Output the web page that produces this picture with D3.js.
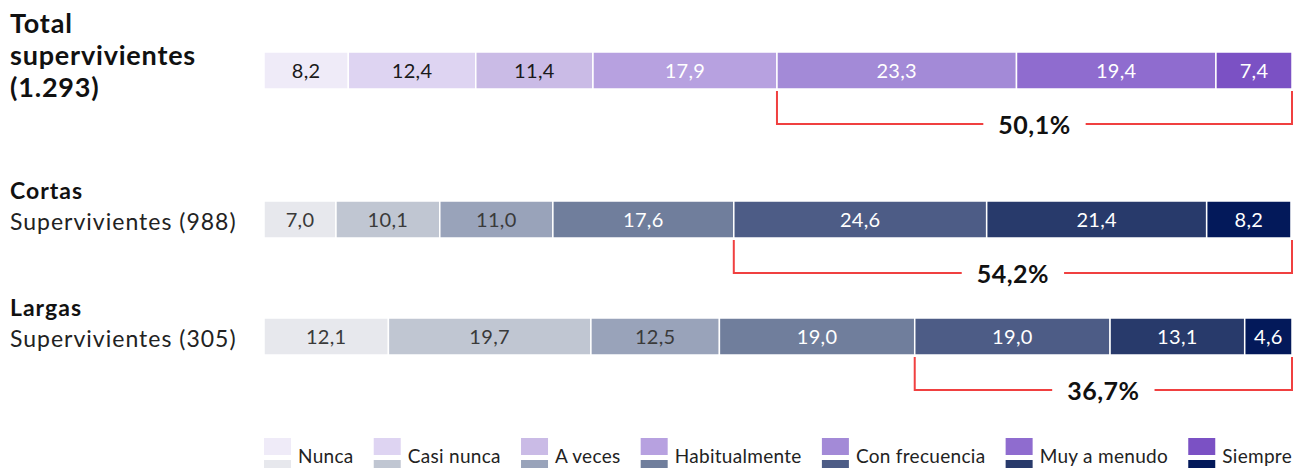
<!DOCTYPE HTML>
<html>
	<head>
		<title>Supervivientes</title>
		<meta charset="UTF8">
		<script src="https://d3js.org/d3.v7.min.js"></script>
		<style>
			body
			{
				margin: 0;
				padding: 0;
				background-color: white;
			}
			svg
			{
				display: block;
				font-family: Lato, "Open Sans", sans-serif;
			}
			.value
			{
				font-size: 20px;
				letter-spacing: 0.3px;
				text-anchor: middle;
			}
			.group-title
			{
				font-weight: bold;
				fill: #111;
			}
			.group-sub
			{
				font-size: 23px;
				letter-spacing: 1px;
				fill: #222;
			}
			.bracket-label
			{
				font-size: 25px;
				font-weight: bold;
				letter-spacing: 0.5px;
				text-anchor: middle;
				fill: #111;
			}
			.legend-label
			{
				font-size: 19px;
				letter-spacing: 0.3px;
				fill: #222;
			}
		</style>
	</head>

	<body>
		<svg></svg>
	</body>

	<script>
		const w = 1294;
		const h = 468;

		// data
		const categories = ["Nunca", "Casi nunca", "A veces", "Habitualmente", "Con frecuencia", "Muy a menudo", "Siempre"];
		const groups = ["total", "cortas", "largas"];
		const totalValues = [8.2, 12.4, 11.4, 17.9, 23.3, 19.4, 7.4];
		const cortasValues = [7.0, 10.1, 11.0, 17.6, 24.6, 21.4, 8.2];
		const largasValues = [12.1, 19.7, 12.5, 19.0, 19.0, 13.1, 4.6];
		const titleLines = [["Total", "supervivientes", "(1.293)"], ["Cortas"], ["Largas"]];
		const subtitles = ["", "Supervivientes (988)", "Supervivientes (305)"];
		const bracketFrom = "Con frecuencia";

		const purples = ["#efebf8", "#ded4f2", "#cabbe6", "#b7a1e0", "#a38ad7", "#8f6ccf", "#7b51c4"];
		const blues = ["#e7e8ed", "#c0c6d2", "#99a3ba", "#707e9c", "#4d5c86", "#283a6b", "#03195a"];

		const valuesByGroup = [totalValues, cortasValues, largasValues];
		const table = groups.map((g, i) => {
			const row = {group: g};
			categories.forEach((c, j) => row[c] = valuesByGroup[i][j]);
			return row;
		});

		const barH = 37;
		const xScale = d3.scaleLinear().domain([0, 100]).range([264, 1292]);
		const yScale = d3.scaleOrdinal().domain(groups).range([52, 201, 318]);
		const palette = g => g === "total" ? purples : blues;
		const fmt = v => d3.format(".1f")(v).replace(".", ",");

		const svg = d3.select("svg")
			.attr("width", w)
			.attr("height", h);

		const series = d3.stack().keys(categories)(table);

		// bars
		series.forEach((s, j) => {
			const g = svg.append("g").attr("class", "serie");
			g.selectAll("rect")
				.data(s)
				.enter()
				.append("rect")
				.attr("x", d => xScale(d[0]))
				.attr("y", d => yScale(d.data.group))
				.attr("width", d => xScale(d[1]) - xScale(d[0]))
				.attr("height", barH)
				.attr("fill", d => palette(d.data.group)[j])
				.attr("stroke", "white")
				.attr("stroke-width", 1.5);

			g.selectAll("text")
				.data(s)
				.enter()
				.append("text")
				.attr("class", "value")
				.attr("x", d => (xScale(d[0]) + xScale(d[1])) / 2)
				.attr("y", d => yScale(d.data.group) + barH / 2 + 7)
				.attr("fill", d => j < 3 ? (d.data.group === "total" ? "#1a1a1a" : "#3a3a3a") : "white")
				.text(d => fmt(d[1] - d[0]));
		});

		// group labels
		groups.forEach((g, i) => {
			const lines = titleLines[i];
			const big = lines.length > 1;
			const t = svg.append("text")
				.attr("class", "group-title")
				.attr("font-size", big ? 27 : 23)
				.attr("letter-spacing", big ? 0.8 : 1)
				.attr("x", 10);
			lines.forEach((l, k) => {
				t.append("tspan")
					.attr("x", 10)
					.attr("y", big ? 33 + k * 32 : yScale(g) - 2)
					.text(l);
			});
			if (subtitles[i]) {
				svg.append("text")
					.attr("class", "group-sub")
					.attr("x", 10)
					.attr("y", yScale(g) + 29)
					.text(subtitles[i]);
			}
		});

		// brackets
		const startIdx = categories.indexOf(bracketFrom);
		table.forEach(row => {
			const x0 = xScale(d3.sum(categories.slice(0, startIdx), c => row[c]));
			const x1 = xScale(100);
			const top = yScale(row.group) + barH + 2;
			const yLine = top + 33;
			const share = d3.sum(categories.slice(startIdx), c => row[c]);
			const cx = (x0 + x1) / 2;

			const label = svg.append("text")
				.attr("class", "bracket-label")
				.attr("x", cx)
				.attr("y", yLine + 10)
				.text(fmt(share) + "%");
			const half = label.node().getComputedTextLength() / 2 + 15;

			svg.append("path")
				.attr("d", "M" + x0 + "," + top + "V" + yLine + "H" + (cx - half) +
					"M" + (cx + half) + "," + yLine + "H" + x1 + "V" + top)
				.attr("fill", "none")
				.attr("stroke", "#f04040")
				.attr("stroke-width", 2);
		});

		// legend, spread across the bar width
		const legend = svg.append("g").attr("class", "legend");
		const items = legend.selectAll("g")
			.data(categories)
			.enter()
			.append("g");
		items.append("rect")
			.attr("width", 27).attr("height", 17)
			.attr("y", 438)
			.attr("fill", (d, i) => purples[i]);
		items.append("rect")
			.attr("width", 27).attr("height", 17)
			.attr("y", 460)
			.attr("fill", (d, i) => blues[i]);
		items.append("text")
			.attr("class", "legend-label")
			.attr("x", 34)
			.attr("y", 463)
			.text(d => d);

		const widths = items.nodes().map(n => n.getBBox().width);
		const total = d3.sum(widths);
		const gap = (xScale.range()[1] - xScale.range()[0] - total) / (categories.length - 1);
		let pos = xScale.range()[0];
		items.each(function(d, i) {
			d3.select(this).attr("transform", "translate(" + pos + ",0)");
			pos += widths[i] + gap;
		});
	</script>
</html>
